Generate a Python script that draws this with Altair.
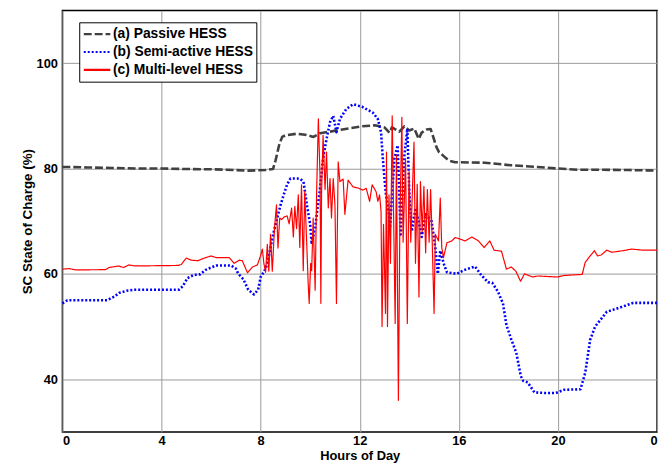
import altair as alt
import pandas as pd

# Passive HESS (a)
passive_h = [0, 1, 2, 3, 4, 5, 6, 7, 7.5, 8.2, 8.5, 8.6, 8.75, 8.87, 9.0, 9.47, 9.8, 10.13, 10.4, 10.8, 11.3,
             12.1, 12.6, 13.0, 13.2, 13.3, 13.6, 13.8, 14.0, 14.2, 14.38, 14.5, 14.7, 14.86, 15.0, 15.1, 15.2,
             15.4, 15.6, 15.85, 17.05, 18.12, 19.18, 19.98, 20.78, 21.83, 22.9, 24]
passive_v = [80.3, 80.2, 80.1, 80.0, 80.0, 79.9, 79.85, 79.7, 79.6, 79.7, 79.9, 81.5, 84.5, 86.0, 86.3, 86.6, 86.4,
             86.0, 86.7, 87.0, 87.4, 88.0, 88.2, 87.8, 86.8, 87.8, 87.0, 88.0, 87.2, 87.6, 85.6, 86.8, 87.4, 87.5,
             85.5, 84.0, 83.1, 82.3, 81.5, 81.2, 81.1, 80.6, 80.3, 80.0, 79.75, 79.75, 79.7, 79.6]

# Semi-active HESS (b)
semi_h = [0, 0.2, 1.8, 2.1, 2.3, 2.6, 2.9, 4.7, 4.85, 5.05, 5.3, 5.55, 5.8, 6.2, 6.8, 7.0, 7.1, 7.3, 7.5, 7.73,
          7.9, 8.0, 8.15, 8.27, 8.4, 8.53, 8.67, 8.8, 8.93, 9.07, 9.2, 9.47, 9.6, 9.73, 9.87, 10.0, 10.06, 10.2,
          10.38, 10.52, 10.66, 10.8, 10.93, 11.06, 11.2, 11.46, 11.73, 12.1, 12.53, 12.73, 12.86, 12.93, 13.0,
          13.06, 13.18, 13.22, 13.4, 13.53, 13.65, 13.79, 13.92, 14.0, 14.1, 14.25, 14.4, 14.5, 14.66, 14.9,
          15.05, 15.15, 15.25, 15.4, 15.52, 15.92, 16.2, 16.65, 16.9, 17.18, 17.35, 17.58, 17.78, 17.92, 18.12,
          18.32, 18.5, 18.6, 18.78, 19.05, 19.45, 19.92, 20.25, 20.91, 21.1, 21.3, 21.5, 21.97, 22.5, 23.04, 24]
semi_v = [54.4, 55, 55, 55.7, 56.4, 56.8, 57, 57, 57.6, 59.2, 59.8, 59.9, 60.8, 61.6, 61.6, 61, 60, 59, 57, 56.1,
          57, 59.4, 60.5, 61.9, 65, 68, 70.6, 73, 75, 77, 78.1, 78.1, 78, 77.5, 73, 69.4, 65.6, 68.8,
          75.6, 81.9, 85.6, 88.8, 90, 86.9, 89.4, 91.3, 92.2, 91.7, 90.6, 89.4, 86.9, 82, 78,
          75, 71.3, 68.8, 81.9, 84.4, 67.5, 81.9, 87.5, 75.6, 68.1, 72.5, 69.4, 67, 71.3, 70,
          65, 60, 64.4, 61.8, 60.3, 60, 60.7, 61.4, 59.8, 58.4, 58.3, 56.6, 54.4, 50.3, 47.5,
          45, 40.6, 39.7, 39.4, 37.5, 37.4, 37.4, 38, 38.1, 41.2, 47.5, 50, 52.8, 53.6, 54.5, 54.5]

# Multi-level HESS (c)
multi_h = [0, 0.27, 0.54, 1.74, 1.88, 2.27, 2.47, 2.68, 2.94, 4.67, 4.8, 5.0, 5.2, 5.47, 5.73, 6.0, 6.2, 6.73,
           6.93, 7.13, 7.26, 7.47, 7.67, 7.87, 8.0, 8.07, 8.13, 8.2, 8.27, 8.33, 8.4, 8.47, 8.56, 8.64, 8.7, 8.77,
           8.85, 8.95, 9.07, 9.15, 9.25, 9.32, 9.38, 9.45, 9.52, 9.58, 9.65, 9.72, 9.78, 9.85, 9.92, 9.96, 10.02,
           10.06, 10.12, 10.2, 10.26, 10.33, 10.4, 10.43, 10.46, 10.52, 10.6, 10.66, 10.73, 10.8, 10.86, 10.93,
           11.0, 11.06, 11.13, 11.2, 11.33, 11.4, 11.53, 11.73, 11.93, 12.13, 12.26, 12.4, 12.5, 12.66, 12.73,
           12.8, 12.86, 12.9, 12.96, 13.04, 13.08, 13.12, 13.18, 13.24, 13.31, 13.37, 13.43, 13.48, 13.56, 13.62,
           13.7, 13.75, 13.85, 13.92, 13.99, 14.06, 14.12, 14.19, 14.25, 14.32, 14.39, 14.45, 14.52, 14.59,
           14.66, 14.73, 14.8, 14.86, 14.92, 15.0, 15.05, 15.18, 15.25, 15.31, 15.38, 15.52, 15.72, 15.85,
           16.05, 16.25, 16.52, 16.78, 17.02, 17.25, 17.42, 17.72, 17.92, 18.12, 18.3, 18.49, 18.65, 18.98,
           19.18, 19.58, 19.98, 20.25, 20.98, 21.1, 21.3, 21.47, 21.6, 21.75, 21.97, 22.17, 22.63, 22.97,
           23.44, 24]
multi_v = [60.9, 61.0, 60.75, 60.8, 61.2, 61.5, 61.2, 61.7, 61.5, 61.6, 61.8, 63.0, 62.6, 62.5, 63.0, 63.4, 63.1,
           63.1, 62.0, 62.6, 62.5, 60.2, 61.3, 61.7, 63.5, 64.7, 62, 60.3, 65.6, 60.5, 67.5, 60.5, 68.7, 73.1,
           64.9, 70.6, 70.3, 70.8, 71.0, 69.5, 72.5, 67, 72.8, 68.6, 75.0, 65, 76.9, 60.6, 75.6, 67, 58.1, 54.4,
           62, 60.6, 70.6, 56.9, 75.6, 89.4, 78.1, 54.4, 75.6, 86.3, 76, 83.1, 72.5, 78.1, 70.6, 78.1,
           73, 54.4, 81.25, 77.5, 78, 71.3, 77.8, 76.5, 76.3, 75.9, 76.25, 73.75, 76.9, 75.6, 73.75,
           75, 71.9, 50, 69.4, 52.5, 83.1, 50, 75, 62, 90, 70, 50.6, 82.5, 36, 70,
           89.7, 66, 81.9, 50.6, 79.4, 66, 75, 85, 62, 77, 55.6, 77.5, 68, 76.6,
           64, 76, 66, 76, 67, 52.5, 67.5, 66.25, 74.4, 65, 63.1, 65.9, 66.25, 66.9,
           66.6, 66.25, 67, 66.3, 65, 66.25, 64.5, 64.3, 60.9, 61.3, 60.5, 58.6, 60, 59.4,
           59.6, 59.5, 59.4, 59.7, 59.9, 62.2, 63.4, 64.4, 63.4, 63.6, 64.5, 64.1, 64.4, 64.7,
           64.5, 64.5]

names = ["(a) Passive HESS", "(b) Semi-active HESS", "(c) Multi-level HESS"]
x_ticks = [0, 4, 8, 12, 16, 20, 24]
y_ticks = [40, 60, 80, 100]

frames = []
for i, (h, v) in enumerate([(passive_h, passive_v), (semi_h, semi_v), (multi_h, multi_v)]):
    frames.append(pd.DataFrame({"hour": h, "soc": v, "series": names[i], "idx": range(len(h))}))
df = pd.concat(frames, ignore_index=True)

font = "Liberation Sans"

legend_opts = dict(title=None, orient="none", legendX=17, legendY=12,
                   symbolType="stroke", symbolSize=720, symbolStrokeWidth=2.2,
                   labelFont=font, labelFontSize=14, labelFontWeight="bold",
                   labelColor="black", strokeColor="black", fillColor="white",
                   padding=3, rowPadding=0, clipHeight=18, labelOffset=1, cornerRadius=0)

chart = alt.Chart(df).mark_line(strokeJoin="round").encode(
    x=alt.X("hour:Q", scale=alt.Scale(domain=[0, 24], nice=False),
            axis=alt.Axis(values=x_ticks, title="Hours of Day",
                          labelExpr="datum.value == 24 ? '0' : datum.label")),
    y=alt.Y("soc:Q", scale=alt.Scale(domain=[30, 110], nice=False),
            axis=alt.Axis(values=y_ticks, title="SC State of Charge (%)", titleFontSize=13.5)),
    color=alt.Color("series:N", scale=alt.Scale(domain=names, range=["#404040", "#0000ff", "#ff0000"]),
                    legend=alt.Legend(**legend_opts)),
    strokeDash=alt.StrokeDash("series:N", scale=alt.Scale(domain=names, range=[[8, 3], [2, 2], [1, 0]]),
                              legend=alt.Legend(**legend_opts)),
    strokeWidth=alt.condition("datum.series == '(c) Multi-level HESS'", alt.value(1.2), alt.value(2.6)),
    order="idx:Q",
).properties(
    width=601, height=426,
    autosize=alt.AutoSizeParams(type="none"),
    padding={"left": 55, "top": 0, "right": 6, "bottom": 34},
).configure_view(
    stroke="black", strokeWidth=1.5
).configure_axis(
    labelFont=font, labelFontSize=13, labelFontWeight="bold", labelColor="black",
    titleFont=font, titleFontSize=13, titleFontWeight="bold", titleColor="black",
    grid=True, gridColor="#9a9a9a", gridWidth=1, ticks=False, domain=False,
).configure_axisX(labelPadding=3, titlePadding=2).configure_axisY(labelPadding=5, titlePadding=2)

chart.save("out.html", embed_options={"renderer": "svg", "actions": False})
